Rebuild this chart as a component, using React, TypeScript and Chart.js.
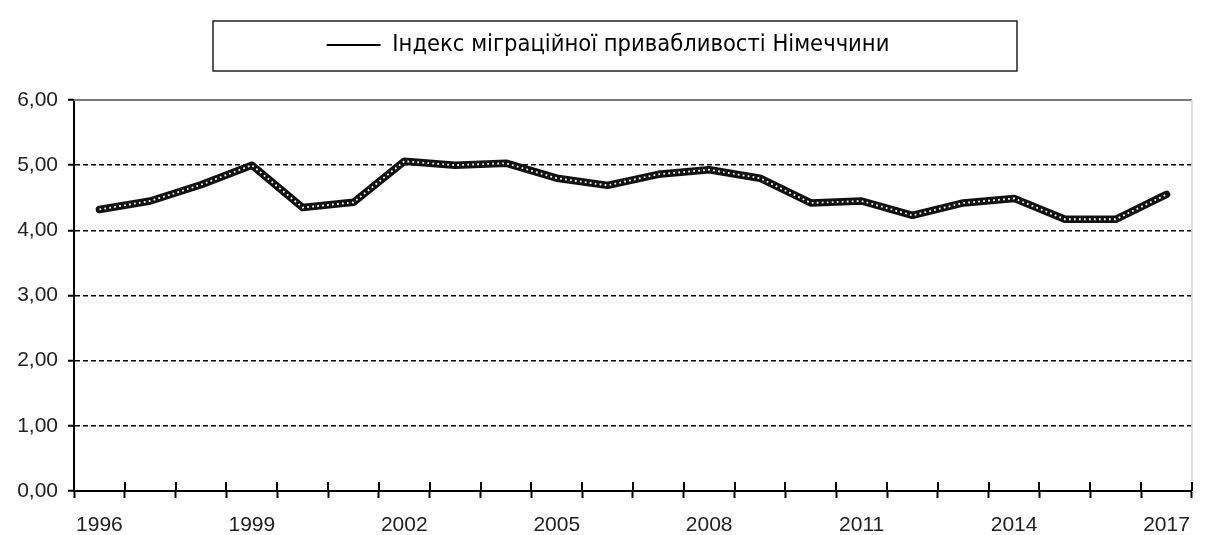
import React, { useEffect, useRef } from 'react';
import { Chart, registerables } from 'chart.js';

Chart.register(...registerables);

const years: string[] = [
  '1996', '1997', '1998', '1999', '2000', '2001', '2002', '2003', '2004', '2005', '2006',
  '2007', '2008', '2009', '2010', '2011', '2012', '2013', '2014', '2015', '2016', '2017',
];
const indexValues: number[] = [
  4.32, 4.45, 4.7, 5.0, 4.35, 4.43, 5.06, 5.0, 5.03, 4.8, 4.69,
  4.86, 4.93, 4.8, 4.42, 4.45, 4.23, 4.42, 4.49, 4.17, 4.17, 4.55,
];
const seriesLabel = 'Індекс міграційної привабливості Німеччини';
const yMin = 0;
const yMax = 6;
const yStep = 1;
const xLabelEvery = 3;

const tickFont = { family: "'Liberation Sans', Arial, sans-serif", size: 21 };
const legendFont = { family: "'DejaVu Sans Condensed', 'Liberation Sans Narrow', sans-serif", size: 23.5 };

const decorPlugin = {
  id: 'decor',
  afterDraw(chart: any) {
    const { ctx, chartArea: a, legend, scales } = chart;
    ctx.save();
    // top border of plot area
    ctx.strokeStyle = '#7a7a7a';
    ctx.lineWidth = 2;
    ctx.beginPath();
    ctx.moveTo(a.left, a.top);
    ctx.lineTo(a.right, a.top);
    ctx.stroke();
    // right border
    ctx.strokeStyle = '#d4d4d4';
    ctx.lineWidth = 1.5;
    ctx.beginPath();
    ctx.moveTo(a.right, a.top);
    ctx.lineTo(a.right, a.bottom);
    ctx.stroke();
    // upper part of the crossing x tick marks
    const xs = scales.x;
    const n = xs.getLabels().length;
    const step = xs.getPixelForValue(1) - xs.getPixelForValue(0);
    ctx.strokeStyle = '#000';
    ctx.lineWidth = 2;
    for (let i = 1; i <= n; i++) {
      const px = Math.round(xs.getPixelForValue(i) - step / 2);
      ctx.beginPath();
      ctx.moveTo(px, a.bottom);
      ctx.lineTo(px, a.bottom - 9);
      ctx.stroke();
    }
    // legend frame
    if (legend && legend.options.display) {
      const cx = (legend.left + legend.right) / 2 + 7;
      ctx.strokeStyle = '#222';
      ctx.lineWidth = 1.5;
      ctx.strokeRect(cx - 402, 21, 804, 50);
    }
    ctx.restore();
  },
};

export default function App() {
  const canvasRef = useRef<HTMLCanvasElement | null>(null);

  useEffect(() => {
    if (!canvasRef.current) return;
    const chart = new Chart(canvasRef.current, {
      type: 'line',
      data: {
        labels: years,
        datasets: [
          {
            label: seriesLabel,
            data: indexValues,
            borderColor: '#111',
            backgroundColor: '#111',
            borderWidth: 7.5,
            borderJoinStyle: 'round',
            borderCapStyle: 'round',
            pointRadius: 0,
            tension: 0,
            order: 2,
          },
          {
            label: 'overlay',
            data: indexValues,
            borderColor: '#ffffff',
            borderWidth: 1.8,
            borderDash: [1.8, 3.2],
            pointRadius: 0,
            tension: 0,
            order: 1,
          },
        ],
      },
      options: {
        responsive: false,
        animation: false,
        layout: { padding: { top: 23.25, left: 16, right: 5, bottom: 0 } },
        plugins: {
          tooltip: { enabled: false },
          legend: {
            display: true,
            position: 'top',
            labels: {
              font: legendFont,
              color: '#000',
              boxWidth: 54,
              boxHeight: 2,
              padding: 10,
              filter: (item: any) => item.datasetIndex === 0,
              generateLabels: (chart: any) => {
                const items = Chart.defaults.plugins.legend.labels.generateLabels(chart);
                return items.map((it: any) => ({ ...it, fillStyle: '#000', strokeStyle: '#000', lineWidth: 0 }));
              },
            },
          },
          subtitle: {
            display: true,
            text: '',
            weight: 500,
            position: 'top',
            font: { size: 10, lineHeight: 1 },
            padding: { top: 11, bottom: 12.25 },
          },
        },
        scales: {
          x: {
            type: 'category',
            offset: true,
            afterFit: (s: any) => { s.height = 44; },
            grid: {
              offset: true,
              drawOnChartArea: false,
              drawTicks: true,
              tickLength: 7,
              tickColor: '#000',
              tickWidth: 2,
            },
            border: { display: true, color: '#000', width: 2 },
            ticks: {
              autoSkip: false,
              maxRotation: 0,
              minRotation: 0,
              padding: 15,
              color: '#222',
              font: tickFont,
              callback: (_v: any, i: number) => (i % xLabelEvery === 0 ? years[i] : ''),
            },
          },
          y: {
            min: yMin,
            max: yMax,
            afterFit: (s: any) => { s.width = 58; },
            grid: {
              color: (c: any) => (c.tick && (c.tick.value === yMin || c.tick.value === yMax) ? 'rgba(0,0,0,0)' : '#000'),
              lineWidth: 1.5,
              tickLength: 6,
              tickColor: '#000',
              tickWidth: 2,
              tickBorderDash: [],
            },
            border: { display: true, color: '#000', width: 2, dash: [5, 3] },
            ticks: {
              stepSize: yStep,
              padding: 10,
              color: '#222',
              font: tickFont,
              callback: (v: any) => Number(v).toFixed(2).replace('.', ','),
            },
          },
        },
      },
      plugins: [decorPlugin],
    } as any);
    return () => chart.destroy();
  }, []);

  return (
    <div style={{ position: 'absolute', left: 0, top: 0, width: 1205, height: 535, background: '#fff' }}>
      <canvas ref={canvasRef} width={1205} height={535} style={{ display: 'block' }} />
    </div>
  );
}
